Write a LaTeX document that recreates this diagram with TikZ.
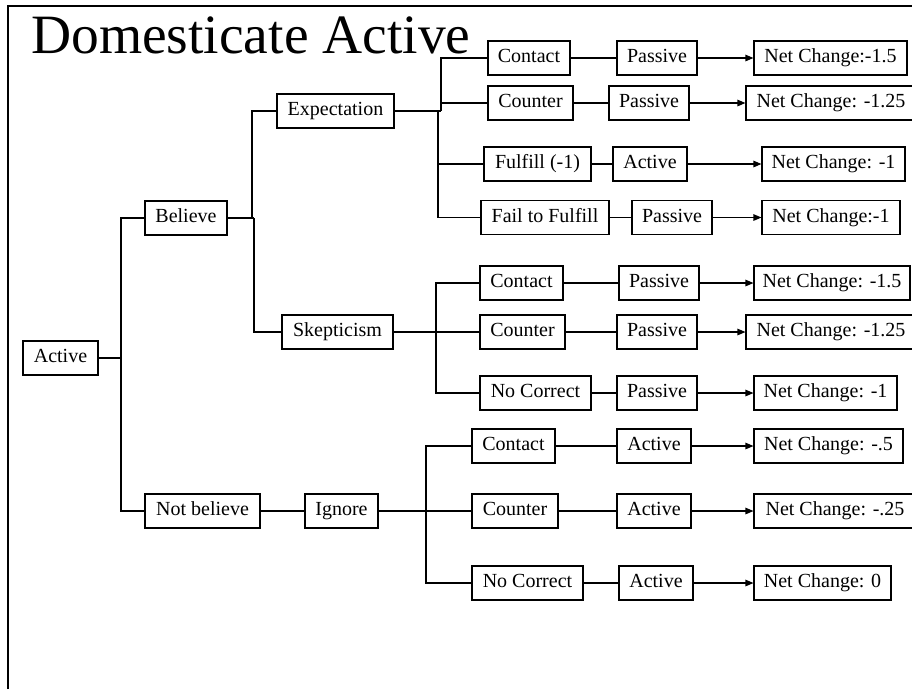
\documentclass[tikz,border=0pt]{standalone}
\usepackage{fontspec}
\setmainfont{Liberation Serif}
\usetikzlibrary{arrows.meta}
% box with given left/right edge and vertical centre (units: 1pt, y downwards)
\newcommand\mkbox[5]{\node[box,minimum width={(#3-#2)*1pt}] (#1) at ({(#2+#3)/2},#4) {#5};}
\begin{document}
\begin{tikzpicture}[x=1pt,y=-1pt,
  box/.style={draw,line width=1.1pt,fill=white,inner sep=0pt,minimum height=34pt,
    text height=13.5pt,text depth=4pt,font=\fontsize{20}{22}\selectfont},
  link/.style={line width=1.1pt},
  res/.style={link,-{Triangle[length=8pt,width=6.5pt]}}]
\useasboundingbox (0,0) rectangle (912,689);
\draw[line width=2pt] (8,689) -- (8,6) -- (912,6);
\node[anchor=base west,inner sep=0pt,font=\fontsize{55.5}{60}\selectfont] (title) at (31,53) {Domesticate Active};

% main stem
\mkbox{root}{23}{98}{358}{Active}
\mkbox{bel}{145}{227}{218}{Believe}
\mkbox{nbel}{145}{260}{511}{Not believe}
\mkbox{expt}{277}{394}{111}{Expectation}
\mkbox{skep}{282}{393}{332}{Skepticism}
\mkbox{ign}{305}{378}{511}{Ignore}

% expectation branch
\mkbox{e1}{488}{570}{58}{Contact}
\mkbox{ep1}{617}{697}{58}{Passive}
\mkbox{en1}{754}{907}{58}{Net Change:-1.5}
\mkbox{e2}{488}{573}{103}{Counter}
\mkbox{ep2}{609}{689}{103}{Passive}
\mkbox{en2}{746}{916}{103}{Net Change: -1.25}
\mkbox{e3}{484}{591}{164}{Fulfill (-1)}
\mkbox{ep3}{613}{687}{164}{Active}
\mkbox{en3}{762}{905}{164}{Net Change: -1}
\mkbox{e4}{481}{609}{217.5}{Fail to Fulfill}
\mkbox{ep4}{632}{712}{217.5}{Passive}
\mkbox{en4}{762}{900}{217.5}{Net Change:-1}

% skepticism branch
\mkbox{s1}{480}{563}{283}{Contact}
\mkbox{sp1}{619}{699}{283}{Passive}
\mkbox{sn1}{754}{910}{283}{Net Change: -1.5}
\mkbox{s2}{480}{565}{332}{Counter}
\mkbox{sp2}{617}{697}{332}{Passive}
\mkbox{sn2}{746}{916}{332}{Net Change: -1.25}
\mkbox{s3}{480}{591}{393}{No Correct}
\mkbox{sp3}{617}{697}{393}{Passive}
\mkbox{sn3}{754}{897}{393}{Net Change: -1}

% ignore branch
\mkbox{i1}{472}{555}{446}{Contact}
\mkbox{ip1}{617}{691}{446}{Active}
\mkbox{in1}{754}{903}{446}{Net Change: -.5}
\mkbox{i2}{472}{558}{511}{Counter}
\mkbox{ip2}{617}{691}{511}{Active}
\mkbox{in2}{754}{916}{511}{Net Change: -.25}
\mkbox{i3}{472}{583}{583}{No Correct}
\mkbox{ip3}{619}{693}{583}{Active}
\mkbox{in3}{754}{891}{583}{Net Change: 0}

% tree connectors
\coordinate (j0) at (121,358);
\draw[link] (root.east) -- (j0);
\draw[link] (bel.west) -| (j0) |- (nbel.west);

\coordinate (j1a) at (252,218);
\coordinate (j1b) at (254,218);
\draw[link] (bel.east) -- (j1b);
\draw[link] (expt.west) -| (j1a);
\draw[link] (j1b) |- (skep.west);

\coordinate (j2) at (441,111);
\coordinate (j2b) at (438,111);
\draw[link] (expt.east) -- (j2);
\draw[link] (e1.west) -| (j2);
\draw[link] (e2.west) -- (e2.west -| j2);
\draw[link] (j2b) |- (e4.west);
\draw[line width=2.2pt] (j2b) -- (e3.west -| j2b);
\draw[link] (e3.west) -- (e3.west -| j2b);

\coordinate (j3) at (436,332);
\draw[link] (skep.east) -- (s2.west);
\draw[link] (s1.west) -| (j3) |- (s3.west);

\coordinate (j4) at (426,511);
\draw[link] (nbel.east) -- (ign.west);
\draw[link] (ign.east) -- (i2.west);
\draw[link] (i1.west) -| (j4) |- (i3.west);

% rows: choice -- state -> result
\foreach \a/\b/\c in {e1/ep1/en1,e2/ep2/en2,e3/ep3/en3,e4/ep4/en4,
                      s1/sp1/sn1,s2/sp2/sn2,s3/sp3/sn3,
                      i1/ip1/in1,i2/ip2/in2,i3/ip3/in3}{
  \draw[link] (\a.east) -- (\b.west);
  \draw[res] (\b.east) -- (\c.west);
}
\end{tikzpicture}
\end{document}
